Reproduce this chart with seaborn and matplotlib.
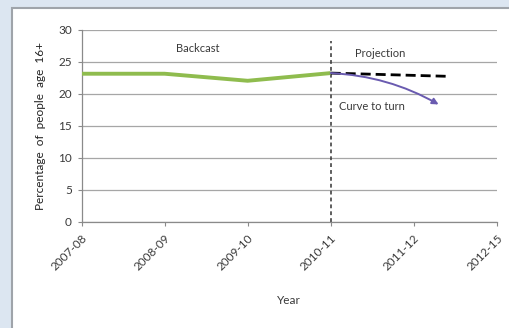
import matplotlib
matplotlib.use("Agg")
import matplotlib.pyplot as plt
from matplotlib.patches import Rectangle
import seaborn as sns
import pandas as pd

# Survey years and observed (backcast) percentages
years = ["2007-08", "2008-09", "2009-10", "2010-11", "2011-12", "2012-15"]
backcast_pos = [0, 1, 2, 3]
backcast_vals = [23.1, 23.1, 22.0, 23.2]

# Flat projection from the last observed year
projection_pos = [3, 4.4]
projection_vals = [23.2, 22.7]

# Desired downward curve
turn_pos = [3, 4.3]
turn_vals = [23.2, 18.3]

y_ticks = [0, 5, 10, 15, 20, 25, 30]

sns.set_theme(style="white")
plt.rcParams["font.family"] = ["Lato", "DejaVu Sans"]

fig = plt.figure(figsize=(5.10, 3.28), dpi=100)
fig.patch.set_facecolor("#dce6f1")
fig.patches.append(Rectangle((12 / 510, -0.1), 1.1, 1.1 - 8 / 328, transform=fig.transFigure,
                             facecolor="white", edgecolor="#9fa4aa", linewidth=1.5,
                             zorder=-10))

ax = fig.add_axes([0.160, 0.324, 0.814, 0.586])
ax.set_zorder(1)
ax.set_facecolor("none")

df_back = pd.DataFrame({"pos": backcast_pos, "val": backcast_vals})
sns.lineplot(data=df_back, x="pos", y="val", ax=ax, color="#8fbc4e", linewidth=2.8,
             solid_capstyle="butt", zorder=3)

df_proj = pd.DataFrame({"pos": projection_pos, "val": projection_vals})
sns.lineplot(data=df_proj, x="pos", y="val", ax=ax, color="black", linewidth=2.0,
             linestyle=(0, (3.6, 1.8)), zorder=3)

ax.annotate("", xy=(turn_pos[1], turn_vals[1]), xytext=(turn_pos[0], turn_vals[0]),
            arrowprops=dict(arrowstyle="-|>", color="#6a5bb0", lw=1.4,
                            connectionstyle="arc3,rad=-0.12", mutation_scale=9,
                            shrinkA=0, shrinkB=0), zorder=4)

# Boundary between backcast and projection
ax.plot([3, 3], [0, 28.2], color="#333333", linewidth=1.1, linestyle=(0, (2.5, 2)), zorder=2)

ax.set_xlim(0, 5)
ax.set_ylim(0, 30)
ax.set_yticks(y_ticks)
ax.set_xticks(range(len(years)))
ax.set_xticklabels(years, rotation=45, ha="right", rotation_mode="anchor",
                   fontsize=8.5, color="#3a3a3a")
ax.tick_params(axis="y", labelsize=8.5, colors="#3a3a3a", length=3, width=0.8,
               color="#8a8a8a", pad=4, left=True)
ax.tick_params(axis="x", length=3, width=0.8, color="#8a8a8a", pad=5, bottom=True)
ax.grid(axis="y", color="#a6a6a6", linewidth=0.9)
ax.set_axisbelow(True)
for side in ["top", "right"]:
    ax.spines[side].set_visible(False)
for side in ["left", "bottom"]:
    ax.spines[side].set_color("#8a8a8a")
    ax.spines[side].set_linewidth(0.9)

ax.set_xlabel("Year", fontsize=8.5, color="#3a3a3a", labelpad=16)
ax.set_ylabel("Percentage  of  people  age  16+", fontsize=8.5, color="#222222",
              labelpad=9)

ax.text(1.4, 27.0, "Backcast", fontsize=8, color="#3a3a3a", ha="center", va="center")
ax.text(3.6, 26.3, "Projection", fontsize=8, color="#3a3a3a", ha="center", va="center")
ax.text(3.5, 18.0, "Curve to turn", fontsize=8, color="#3a3a3a", ha="center", va="center")

fig.savefig("out.png", dpi=100, facecolor=fig.get_facecolor())
